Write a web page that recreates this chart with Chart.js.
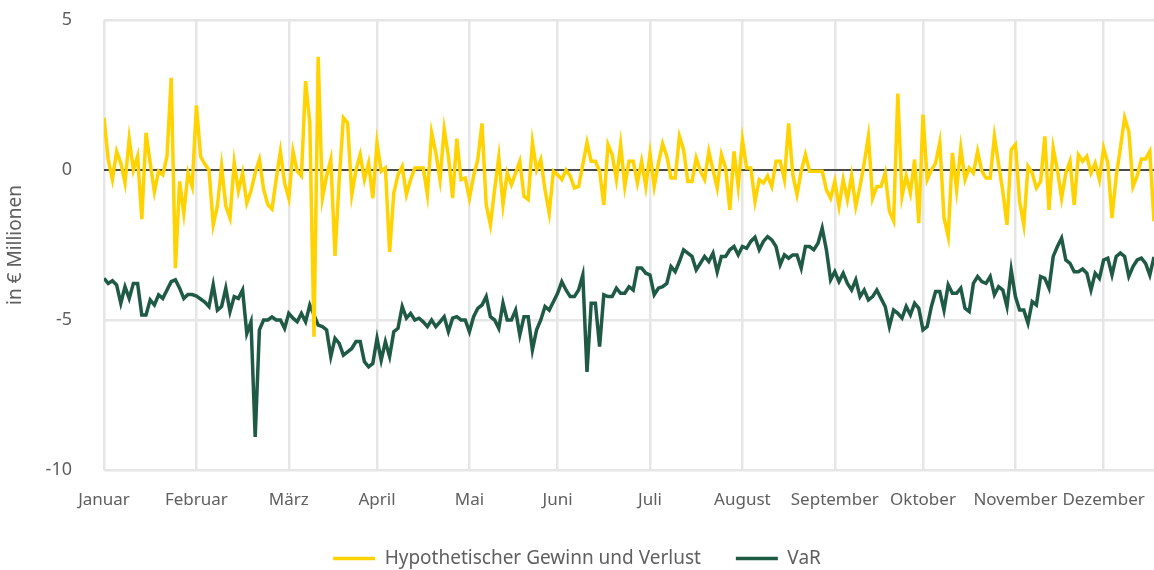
<!DOCTYPE html>
<html lang="de">
<head>
<meta charset="utf-8">
<title>Hypothetischer Gewinn und Verlust / VaR</title>
<script src="https://cdn.jsdelivr.net/npm/chart.js@4/dist/chart.umd.min.js"></script>
<style>
  html, body { margin: 0; padding: 0; background: #fff; }
  #wrap { width: 1154px; height: 570px; position: relative; }
</style>
</head>
<body>
<div id="wrap"><canvas id="chart"></canvas></div>
<script>
const monthLabels = ['Januar', 'Februar', 'März', 'April', 'Mai', 'Juni', 'Juli', 'August', 'September', 'Oktober', 'November', 'Dezember'];
// index of the first trading day of each month
const monthStarts = [0, 22, 44, 65, 87, 108, 130, 152, 174, 195, 217, 238];

// daily hypothetical P&L, in € millions
const pnl = [
  1.74, 0.35, -0.32, 0.62, 0.23, -0.43, 1.04, 0.0, 0.46, -1.64, 1.24, 0.23, -0.73, -0.04, -0.16, 0.46, 3.07, -3.27, -0.38, -1.44, -0.1, -0.55,
  2.15, 0.45, 0.2, 0.0, -1.83, -1.2, 0.12, -1.2, -1.6, 0.25, -0.7, -0.1, -1.1, -0.7, -0.1, 0.35, -0.65, -1.15, -1.3, -0.3, 0.62,
  -0.43, -0.94, 0.62, -0.04, -0.2, 2.96, 1.57, -5.56, 3.77, -0.94, -0.2, 0.35, -2.86, -0.32, 1.74, 1.57, -0.82, 0.0, 0.51, -0.32, 0.23,
  -0.94, 0.9, -0.04, 0.07, -2.73, -0.77, -0.16, 0.12, -0.82, -0.32, 0.07, 0.07, 0.07, -0.82, 1.24, 0.57, -0.32, 1.35, 0.46, -0.94,
  1.04, -0.32, -0.27, -0.94, -0.2, 0.35, 1.55, -1.16, -1.83, -0.66, 0.43, -1.16, -0.1, -0.49, -0.1, 0.29, -0.88, -0.99, 0.92, 0.0, 0.35,
  -0.66, -1.44, -0.04, -0.16, -0.32, 0.0, -0.2, -0.6, -0.55, 0.18, 0.92, 0.29, 0.29, -0.04, -1.16, 0.85, 0.51, -0.32, 0.85, -0.55, 0.29,
  0.29, -0.43, 0.29, -0.55, 0.55, -0.55, 0.23, 0.88, 0.46, -0.27, -0.27, 1.12, 0.68, -0.38, -0.38, 0.4, -0.04, -0.32, 0.62, 0.0, -0.6,
  0.51, 0.07, -1.33, 0.62, -0.55, 1.01, 0.07, 0.07, -1.05, -0.32, -0.43, -0.2, -0.55, 0.29, 0.29, -0.32, 1.55, -0.16, -0.82, -0.04, 0.51,
  -0.04, -0.04, -0.04, -0.04, -0.66, -0.94, -0.38, -1.21, -0.32, -0.99, -0.19, -1.21, -0.55, 0.23, 1.12, -0.94, -0.55, -0.55, -0.1, -1.38, -1.7,
  2.55, -0.88, -0.2, -0.77, 0.35, -1.77, 1.85, -0.32, 0.0, 0.23, 0.92, -1.6, -2.22, 0.57, -0.66, 0.73, -0.32, 0.07, -0.1, 0.62, -0.04,
  -0.27, -0.27, 1.12, 0.18, -0.71, -1.83, 0.68, 0.85, -1.05, -1.83, 0.12, -0.1, -0.6, -0.38, 1.12, -1.33, 0.73, 0.0, -0.94, -0.1, 0.29,
  -1.16, 0.51, 0.29, 0.46, -0.1, 0.23, -0.32, 0.73, 0.23, -1.6, -0.2, 0.73, 1.74, 1.29, -0.55, -0.2, 0.37, 0.37, 0.62, -1.71,
];

// daily value at risk, in € millions
const varRisk = [
  -3.61, -3.78, -3.69, -3.83, -4.44, -3.89, -4.28, -3.78, -3.78, -4.83, -4.83, -4.33, -4.5, -4.16, -4.28, -4.0, -3.72, -3.66, -3.94, -4.28, -4.15, -4.15,
  -4.2, -4.3, -4.4, -4.55, -3.83, -4.67, -4.55, -3.94, -4.72, -4.22, -4.28, -4.0, -5.45, -5.06, -8.9, -5.33, -5.0, -5.0, -4.9, -5.0,
  -5.0, -5.28, -4.78, -4.94, -5.06, -4.78, -5.06, -4.5, -4.83, -5.17, -5.22, -5.33, -6.22, -5.61, -5.78, -6.17, -6.06, -5.95, -5.72, -5.72, -6.39,
  -6.56, -6.45, -5.61, -6.34, -5.72, -6.22, -5.39, -5.28, -4.55, -4.94, -4.78, -5.0, -4.94, -5.06, -5.22, -5.0, -5.22, -5.06, -4.89, -5.39, -4.94,
  -4.89, -5.0, -5.0, -5.39, -4.89, -4.61, -4.5, -4.22, -4.89, -5.0, -5.28, -4.44, -5.0, -5.0, -4.67, -5.5, -4.89, -4.89, -6.0, -5.33, -5.0,
  -4.55, -4.67, -4.39, -4.11, -3.72, -4.0, -4.22, -4.22, -4.0, -3.5, -6.73, -4.44, -4.44, -5.89, -4.16, -4.22, -4.22, -3.94, -4.11, -4.11, -3.89,
  -4.0, -3.27, -3.27, -3.44, -3.5, -4.16, -3.94, -3.89, -3.78, -3.22, -3.39, -3.05, -2.66, -2.77, -2.88, -3.33, -3.11, -2.88, -3.05, -2.77, -3.4,
  -2.88, -2.88, -2.66, -2.55, -2.83, -2.55, -2.61, -2.38, -2.24, -2.66, -2.38, -2.22, -2.33, -2.55, -3.16, -2.83, -2.94, -2.83, -2.83, -3.27, -2.55,
  -2.55, -2.66, -2.44, -1.94, -2.66, -3.66, -3.39, -3.72, -3.44, -3.78, -4.0, -3.66, -4.22, -4.0, -4.33, -4.22, -4.0, -4.28, -4.55, -5.22, -4.67,
  -4.78, -4.94, -4.55, -4.83, -4.44, -4.61, -5.33, -5.22, -4.55, -4.05, -4.05, -4.67, -3.83, -4.11, -4.11, -3.94, -4.61, -4.72, -3.78, -3.55, -3.72,
  -3.78, -3.55, -4.16, -3.89, -4.0, -4.55, -3.33, -4.22, -4.67, -4.67, -5.11, -4.39, -4.5, -3.55, -3.61, -3.94, -2.88, -2.55, -2.27, -3.0, -3.11,
  -3.39, -3.39, -3.3, -3.44, -4.0, -3.44, -3.61, -3.0, -2.94, -3.5, -2.88, -2.77, -2.88, -3.55, -3.22, -3.0, -2.94, -3.11, -3.5, -2.9,
];

const yTicks = [-10, -5, 0, 5];

const textColor = '#5f5f5f';
const gridColor = '#e6e6e6';
Chart.defaults.font.family = "'Noto Sans', sans-serif";
Chart.defaults.color = textColor;

// pin the legend box height so the labels sit near the bottom edge
const legendHeight = {
  id: 'legendHeight',
  beforeInit(chart) {
    const fit = chart.legend.fit;
    chart.legend.fit = function () {
      fit.call(this);
      this.height = 56;
    };
  },
};

new Chart(document.getElementById('chart'), {
  type: 'line',
  data: {
    labels: pnl.map((_, i) => i),
    datasets: [
      {
        label: 'Hypothetischer Gewinn und Verlust',
        data: pnl,
        borderColor: '#ffd200',
        backgroundColor: '#ffd200',
        borderWidth: 3.5,
        pointRadius: 0,
        tension: 0,
      },
      {
        label: 'VaR',
        data: varRisk,
        borderColor: '#1f5a45',
        backgroundColor: '#1f5a45',
        borderWidth: 3.5,
        pointRadius: 0,
        tension: 0,
      },
    ],
  },
  options: {
    responsive: true,
    maintainAspectRatio: false,
    animation: false,
    layout: { padding: { top: 20, right: 0, bottom: 0, left: 0 } },
    plugins: {
      tooltip: { enabled: false },
      legend: {
        position: 'bottom',
        labels: {
          usePointStyle: true,
          pointStyle: 'line',
          pointStyleWidth: 42,
          padding: 35,
          color: textColor,
          font: { size: 19 },
        },
      },
    },
    scales: {
      x: {
        type: 'linear',
        min: 0,
        max: pnl.length - 1,
        afterBuildTicks: (scale) => { scale.ticks = monthStarts.map((value) => ({ value })); },
        afterFit: (scale) => { scale.height = 44; },
        ticks: {
          autoSkip: false,
          maxRotation: 0,
          padding: 0,
          font: { size: 17 },
          callback: (value) => monthLabels[monthStarts.indexOf(value)] ?? '',
        },
        // invisible tick marks make the gap between plot and labels
        grid: { color: gridColor, lineWidth: 2.5, drawTicks: true, tickLength: 20, tickColor: 'rgba(0,0,0,0)' },
        border: { display: false },
      },
      y: {
        min: -10,
        max: 5,
        afterBuildTicks: (scale) => { scale.ticks = yTicks.map((value) => ({ value })); },
        afterFit: (scale) => { scale.width = 104; },
        ticks: { padding: 0, font: { size: 18 } },
        grid: {
          drawTicks: true,
          tickLength: 32,
          tickColor: 'rgba(0,0,0,0)',
          lineWidth: (ctx) => (ctx.tick && ctx.tick.value === 0 ? 2 : 2.5),
          color: (ctx) => (ctx.tick && ctx.tick.value === 0 ? '#4a4a4a' : gridColor),
        },
        border: { display: false },
        title: {
          display: true,
          text: 'in € Millionen',
          color: textColor,
          font: { size: 19 },
          padding: { top: 4, bottom: 0 },
        },
      },
    },
  },
  plugins: [legendHeight],
});
</script>
</body>
</html>
